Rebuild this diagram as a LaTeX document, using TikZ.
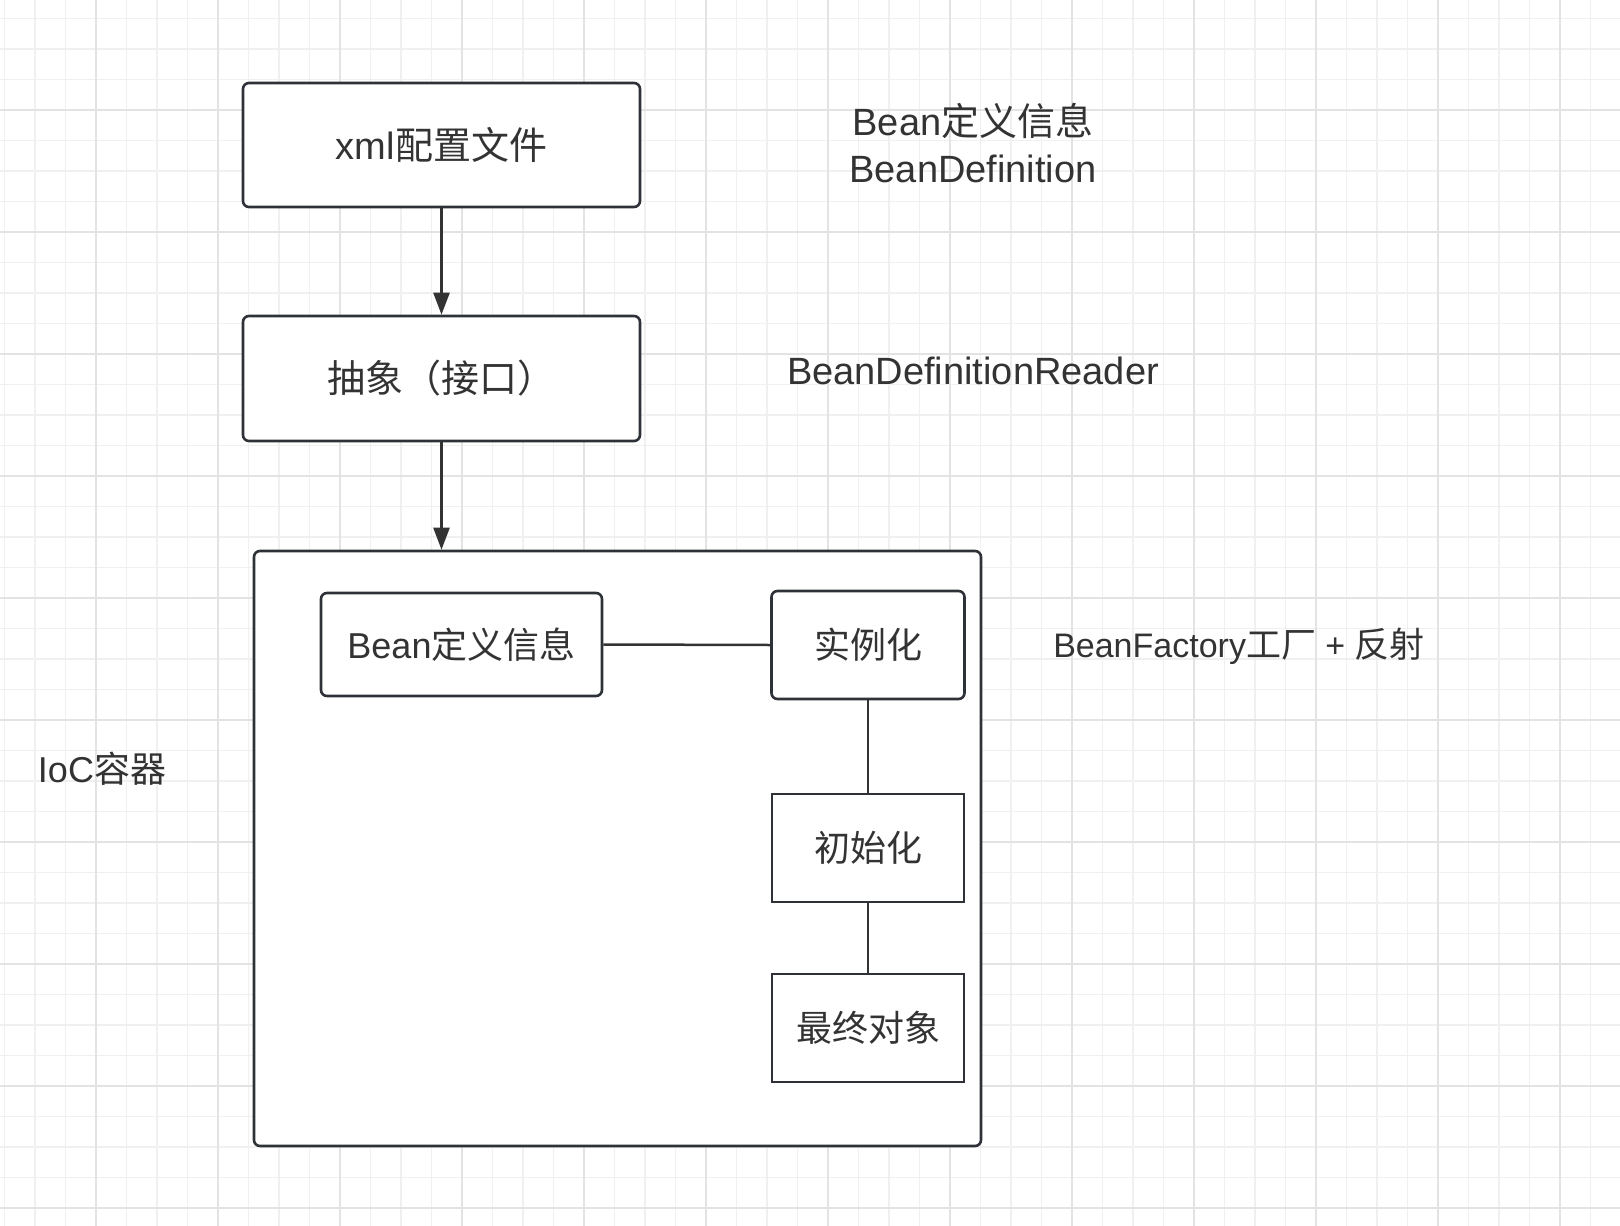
\documentclass[tikz,border=0pt]{standalone}
\usepackage{fontspec}
\setmainfont{Liberation Sans}
\newfontfamily\cjk{Noto Sans CJK SC}
\usetikzlibrary{arrows.meta}
\definecolor{txt}{HTML}{333333}
\definecolor{edge}{HTML}{2E3137}
\definecolor{gminor}{HTML}{F0F0F0}
\definecolor{gmajor}{HTML}{E3E3E3}
\tikzset{
  minorline/.style={gminor, line width=1.5pt},
  majorline/.style={gmajor, line width=2pt},
  rbox/.style={draw=edge, line width=2.6pt, rounded corners=6pt, fill=white, text=txt, font=\fontsize{36pt}{43pt}\selectfont},
  bigtext/.style={font=\fontsize{38pt}{46pt}\selectfont},
  sbox/.style={draw=edge, line width=2.6pt, fill=white, text=txt, font=\fontsize{36pt}{43pt}\selectfont},
  lbl/.style={text=txt, font=\fontsize{38pt}{47.5pt}\selectfont, align=center, inner sep=0pt},
  conn/.style={draw=txt, line width=2.5pt},
  arr/.style={conn, -{Triangle[length=22pt,width=16pt]}}
}
\begin{document}
\begin{tikzpicture}[x=1pt,y=-1pt]
\useasboundingbox (0,0) rectangle (1620,1226);
\fill[white] (0,0) rectangle (1620,1226);
% grid
\foreach \i in {-3,...,49} {
  \pgfmathsetmacro\xx{96+30.5*\i}
  \draw[minorline] (\xx,0) -- (\xx,1226);
}
\foreach \j in {-3,...,36} {
  \pgfmathsetmacro\yy{110+30.5*\j}
  \draw[minorline] (0,\yy) -- (1620,\yy);
}
\foreach \i in {-1,...,12} {
  \pgfmathsetmacro\xx{96+122*\i}
  \draw[majorline] (\xx,0) -- (\xx,1226);
}
\foreach \j in {-1,...,9} {
  \pgfmathsetmacro\yy{110+122*\j}
  \draw[majorline] (0,\yy) -- (1620,\yy);
}
% nodes
\node[rbox, bigtext, minimum width=397pt, minimum height=124pt] (xml) at (441.5,145) {xml{\cjk 配置文件}};
\node[rbox, bigtext, minimum width=397pt, minimum height=125pt] (abs) at (441.5,378.5) {{\cjk 抽象（接口）}};
\node[rbox, minimum width=727pt, minimum height=595pt] (ioc) at (617.5,848.5) {};
\node[rbox, minimum width=281pt, minimum height=103pt] (bdi) at (461.5,644.5) {Bean{\cjk 定义信息}};
\node[rbox, minimum width=193pt, minimum height=108pt] (inst) at (868,645) {{\cjk 实例化}};
\node[sbox, minimum width=192pt, minimum height=108pt] (init) at (868,848) {{\cjk 初始化}};
\node[sbox, minimum width=192pt, minimum height=108pt] (fin) at (868,1028) {{\cjk 最终对象}};
% labels
\node[lbl] (bdlabel) at (973,143) {Bean{\cjk 定义信息}\\BeanDefinition};
\node[lbl] (reader) at (973,371) {BeanDefinitionReader};
\node[lbl, font=\fontsize{34pt}{40pt}\selectfont] (factory) at (1239,646) {BeanFactory{\fontsize{35pt}{40pt}\selectfont\cjk 工厂} + {\fontsize{35pt}{40pt}\selectfont\cjk 反射}};
\node[lbl, font=\fontsize{36pt}{43pt}\selectfont] (ioclabel) at (102,769) {IoC{\cjk 容器}};
% connectors
\draw[arr] (xml.south) -- (abs.north);
\draw[arr] (abs.south) -- (abs.south |- ioc.north);
\draw[conn] (bdi.east) -- (inst.west);
\draw[conn] (inst.south) -- (init.north);
\draw[conn] (init.south) -- (fin.north);
\end{tikzpicture}
\end{document}
